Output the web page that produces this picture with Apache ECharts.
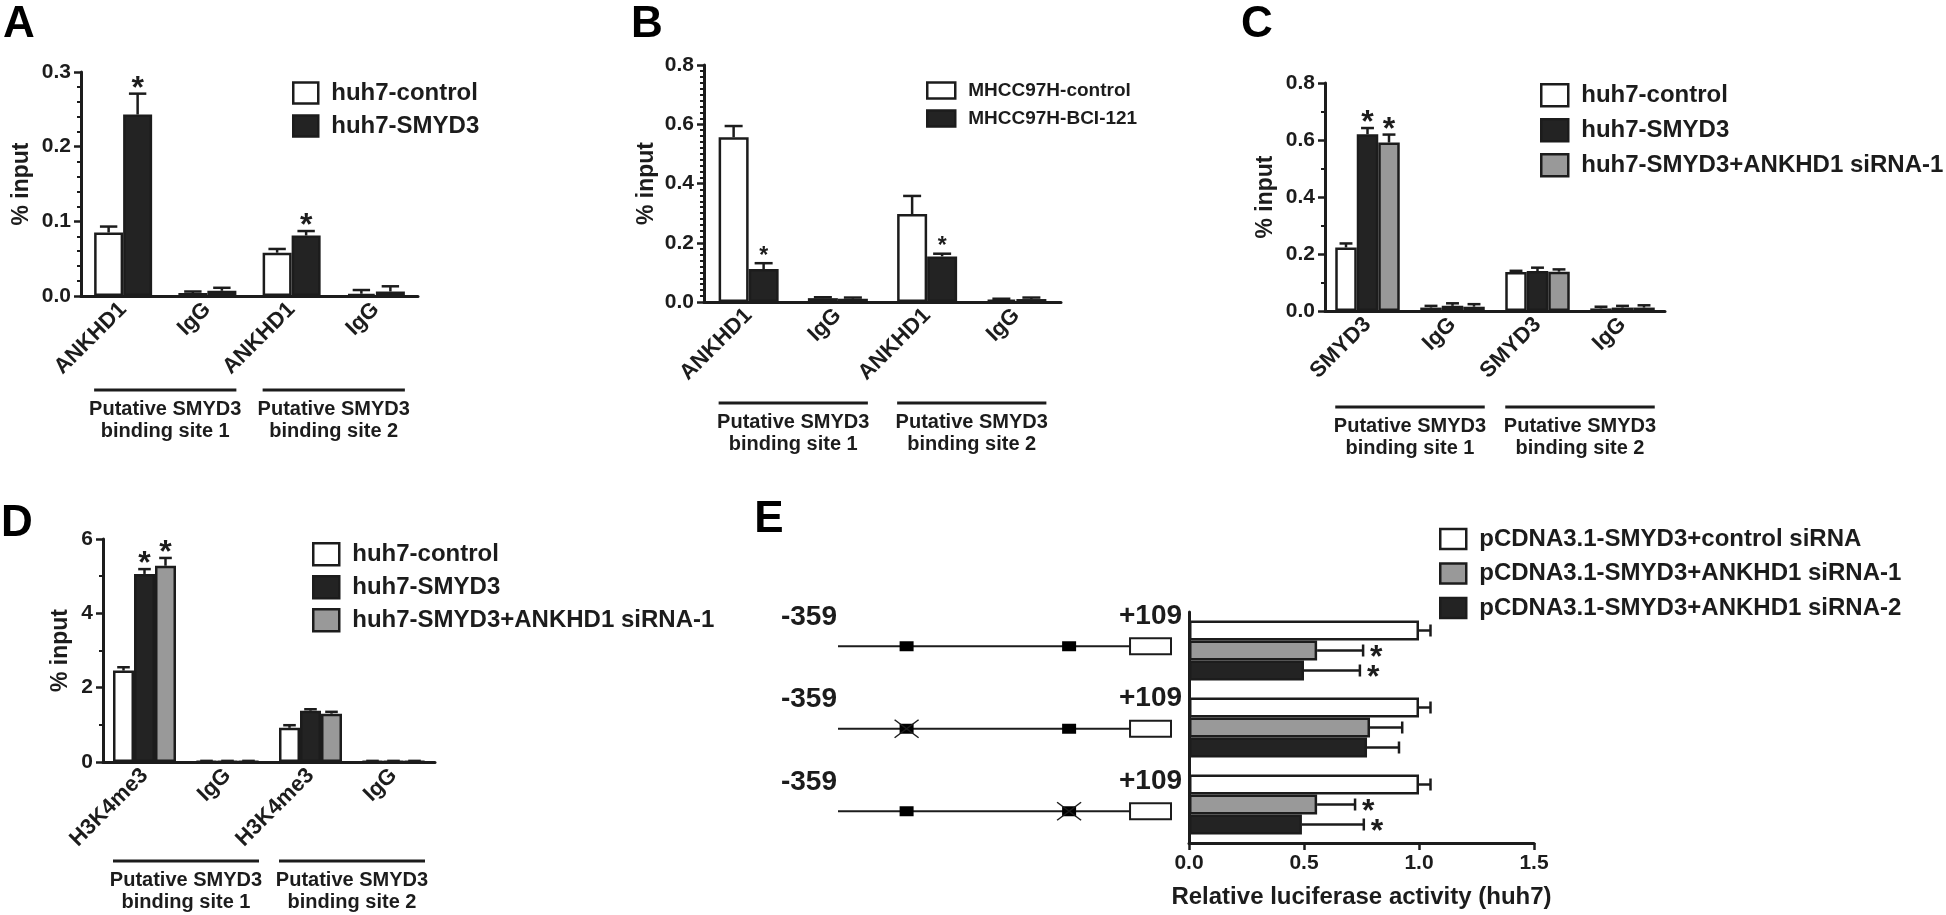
<!DOCTYPE html>
<html>
<head>
<meta charset="utf-8">
<title>SMYD3 / ANKHD1 ChIP and luciferase</title>
<script src="https://cdn.jsdelivr.net/npm/echarts@6/dist/echarts.min.js"></script>
<style>
  html, body { margin: 0; padding: 0; background: #fff; }
  #chart { width: 1946px; height: 915px; }
</style>
</head>
<body>
<div id="chart"></div>
<script>
// ---- A: ChIP in huh7, ANKHD1 promoter ----
const catsA = ['ANKHD1', 'IgG', 'ANKHD1', 'IgG'];
const ticksA = [0, 0.1, 0.2, 0.3];
const ctrlA = [0.085, 0.004, 0.058, 0.003];
const ctrlAErr = [0.008, 0.002, 0.005, 0.005];
const smyd3A = [0.243, 0.007, 0.081, 0.006];
const smyd3AErr = [0.028, 0.004, 0.006, 0.007];
const starsA = [1, 0, 1, 0];

// ---- B: MHCC97H + BCI-121 ----
const catsB = ['ANKHD1', 'IgG', 'ANKHD1', 'IgG'];
const ticksB = [0, 0.2, 0.4, 0.6, 0.8];
const ctrlB = [0.556, 0.013, 0.297, 0.008];
const ctrlBErr = [0.038, 0.003, 0.061, 0.003];
const bciB = [0.111, 0.011, 0.154, 0.010];
const bciBErr = [0.020, 0.004, 0.009, 0.005];
const starsB = [1, 0, 1, 0];

// ---- C: SMYD3 ChIP ----
const catsC = ['SMYD3', 'IgG', 'SMYD3', 'IgG'];
const ticksC = [0, 0.2, 0.4, 0.6, 0.8];
const ctrlC = [0.223, 0.012, 0.137, 0.009];
const ctrlCErr = [0.014, 0.006, 0.004, 0.006];
const smyd3C = [0.620, 0.018, 0.140, 0.012];
const smyd3CErr = [0.022, 0.009, 0.012, 0.006];
const sirnaC = [0.591, 0.015, 0.138, 0.012];
const sirnaCErr = [0.028, 0.009, 0.008, 0.008];
const starsC = [1, 0, 0, 0];

// ---- D: H3K4me3 ChIP ----
const catsD = ['H3K4me3', 'IgG', 'H3K4me3', 'IgG'];
const ticksD = [0, 2, 4, 6];
const ctrlD = [2.46, 0.02, 0.92, 0.02];
const ctrlDErr = [0.09, 0.01, 0.07, 0.01];
const smyd3D = [5.06, 0.02, 1.38, 0.02];
const smyd3DErr = [0.13, 0.01, 0.04, 0.01];
const sirnaD = [5.28, 0.02, 1.30, 0.02];
const sirnaDErr = [0.21, 0.01, 0.05, 0.01];
const starsD = [1, 0, 0, 0];

// ---- E: luciferase reporter (huh7) ----
const constructsE = ['wild type', 'site 1 mutated', 'site 2 mutated'];
const mutatedE = [[0, 0], [1, 0], [0, 1]];
const ticksE = [0, 0.5, 1.0, 1.5];
const ctrlE = [1.0, 1.0, 1.0];
const ctrlEErr = [0.05, 0.05, 0.05];
const sirna1E = [0.557, 0.787, 0.557];
const sirna1EErr = [0.20, 0.14, 0.165];
const sirna2E = [0.500, 0.774, 0.491];
const sirna2EErr = [0.243, 0.139, 0.269];
const starsE = [1, 0, 1];

const siteLabels = ['Putative SMYD3\nbinding site 1', 'Putative SMYD3\nbinding site 2'];

const FONT = '"Liberation Sans", Arial, sans-serif';
const INK = '#1c1c1c';
const WHITE = '#ffffff';
const DARK = '#232323';
const GRAY = '#999999';

const option = {
  animation: false,
  backgroundColor: '#ffffff',
  grid: [], xAxis: [], yAxis: [], legend: [], series: [], graphic: []
};

function bold(size) {
  return { color: INK, fontFamily: FONT, fontWeight: 'bold', fontSize: size };
}

function starText(x, y, size, align) {
  return {
    type: 'text',
    style: { x: x, y: y, text: '*', fill: INK, font: 'bold ' + size + 'px ' + FONT, textAlign: align, textVerticalAlign: 'middle' }
  };
}

// error bar (+ optional asterisk) drawn next to a bar series
function errorBar(offset, cap, starSize, horizontal) {
  return function (params, api) {
    const k = api.value(0), v = api.value(1), e = api.value(2), star = api.value(3);
    const ls = { stroke: INK, lineWidth: 2.5 };
    const kids = [];
    if (!horizontal) {
      const lo = api.coord([k, v]), hi = api.coord([k, v + e]);
      const x = lo[0] + offset;
      kids.push({ type: 'line', shape: { x1: x, y1: lo[1], x2: x, y2: hi[1] }, style: ls });
      kids.push({ type: 'line', shape: { x1: x - cap / 2, y1: hi[1], x2: x + cap / 2, y2: hi[1] }, style: ls });
      if (star) kids.push(starText(x, hi[1] - 12 + 0.225 * starSize, starSize, 'center'));
    } else {
      const lo = api.coord([v, k]), hi = api.coord([v + e, k]);
      const y = lo[1] + offset;
      kids.push({ type: 'line', shape: { x1: lo[0], y1: y, x2: hi[0], y2: y }, style: ls });
      kids.push({ type: 'line', shape: { x1: hi[0], y1: y - cap / 2, x2: hi[0], y2: y + cap / 2 }, style: ls });
      if (star) kids.push(starText(hi[0] + 7, y + 0.225 * starSize, starSize, 'left'));
    }
    return { type: 'group', children: kids };
  };
}

// line under a pair of categories with the site label below it
function bracket(halfSpan, offset) {
  return function (params, api) {
    const a = api.coord([api.value(0), 0]);
    const b = api.coord([api.value(1), 0]);
    const y = a[1] + offset;
    return {
      type: 'group',
      children: [
        { type: 'line', shape: { x1: a[0] - halfSpan, y1: y, x2: b[0] + halfSpan, y2: y }, style: { stroke: INK, lineWidth: 3 } },
        {
          type: 'text',
          style: {
            x: (a[0] + b[0]) / 2, y: y + 8, text: siteLabels[params.dataIndex], fill: INK,
            font: 'bold 20px ' + FONT, textAlign: 'center', textVerticalAlign: 'top', lineHeight: 22
          }
        }
      ]
    };
  };
}

function chipPanel(p) {
  const gi = option.grid.length;
  option.grid.push({ left: p.box[0], top: p.box[1], width: p.box[2], height: p.box[3] });
  option.xAxis.push({
    type: 'category', gridIndex: gi, data: p.cats,
    axisLine: { lineStyle: { color: INK, width: 3 } },
    axisTick: { alignWithLabel: true, length: 7, lineStyle: { color: INK, width: 2.5 } },
    axisLabel: Object.assign({ rotate: 45, margin: 10, interval: 0 }, bold(22))
  });
  option.yAxis.push({
    type: 'value', gridIndex: gi,
    min: p.ticks[0], max: p.ticks[p.ticks.length - 1], interval: p.ticks[1] - p.ticks[0],
    name: '% input', nameLocation: 'middle', nameRotate: 90, nameGap: p.nameGap,
    nameTextStyle: bold(23),
    axisLine: { show: true, lineStyle: { color: INK, width: 3 } },
    axisTick: { show: true, length: 7, lineStyle: { color: INK, width: 2.5 } },
    minorTick: { show: true, splitNumber: p.minor, length: 4, lineStyle: { color: INK, width: 2 } },
    splitLine: { show: false },
    axisLabel: Object.assign({ margin: 10, formatter: p.fmt }, bold(21))
  });
  const n = p.groups.length;
  p.groups.forEach(function (g) {
    option.series.push({
      type: 'bar', name: g.name, xAxisIndex: gi, yAxisIndex: gi, data: g.values,
      barWidth: p.barWidth, barGap: '0%',
      itemStyle: { color: g.color, borderColor: INK, borderWidth: 2.5 }
    });
  });
  p.groups.forEach(function (g, i) {
    option.series.push({
      type: 'custom', xAxisIndex: gi, yAxisIndex: gi, silent: true, z: 3,
      renderItem: errorBar((i - (n - 1) / 2) * p.barWidth, p.barWidth * 0.6, p.starSize, false),
      encode: { x: 0, y: 1 },
      data: g.values.map(function (v, k) { return [k, v, g.errs[k], g.stars ? g.stars[k] : 0]; })
    });
  });
  option.series.push({
    type: 'custom', xAxisIndex: gi, yAxisIndex: gi, silent: true,
    renderItem: bracket(n * p.barWidth / 2, p.bracketOffset),
    encode: { x: [0, 1], y: 2 },
    data: [[0, 1, 0], [2, 3, 0]]
  });
  option.legend.push({
    left: p.legend.left, top: p.legend.top, orient: 'vertical', icon: 'rect',
    itemWidth: p.legend.w, itemHeight: p.legend.h, itemGap: p.legend.gap,
    selectedMode: false,
    data: p.groups.map(function (g) { return g.name; }),
    itemStyle: { borderColor: INK, borderWidth: 2.5 },
    textStyle: Object.assign({ lineHeight: p.legend.h, padding: [0, 0, 0, 8] }, bold(p.legend.font))
  });
}

const fmt1 = function (v) { return v.toFixed(1); };
const fmt0 = function (v) { return String(Math.round(v)); };

chipPanel({
  box: [81, 72, 337, 224], cats: catsA, ticks: ticksA, minor: 5, fmt: fmt1, nameGap: 48,
  barWidth: 29, starSize: 32, bracketOffset: 94,
  legend: { left: 287, top: 76, w: 25, h: 21, gap: 9, font: 24 },
  groups: [
    { name: 'huh7-control', values: ctrlA, errs: ctrlAErr, color: WHITE },
    { name: 'huh7-SMYD3', values: smyd3A, errs: smyd3AErr, stars: starsA, color: DARK }
  ]
});

chipPanel({
  box: [704, 65, 357, 237], cats: catsB, ticks: ticksB, minor: 10, fmt: fmt1, nameGap: 46,
  barWidth: 30, starSize: 23, bracketOffset: 101,
  legend: { left: 921, top: 76, w: 28, h: 16, gap: 9, font: 19 },
  groups: [
    { name: 'MHCC97H-control', values: ctrlB, errs: ctrlBErr, color: WHITE },
    { name: 'MHCC97H-BCI-121', values: bciB, errs: bciBErr, stars: starsB, color: DARK }
  ]
});

chipPanel({
  box: [1325, 83, 340, 228], cats: catsC, ticks: ticksC, minor: 2, fmt: fmt1, nameGap: 48,
  barWidth: 21.5, starSize: 32, bracketOffset: 96,
  legend: { left: 1535, top: 78, w: 27, h: 22, gap: 10.5, font: 24 },
  groups: [
    { name: 'huh7-control', values: ctrlC, errs: ctrlCErr, color: WHITE },
    { name: 'huh7-SMYD3', values: smyd3C, errs: smyd3CErr, stars: starsC, color: DARK },
    { name: 'huh7-SMYD3+ANKHD1 siRNA-1', values: sirnaC, errs: sirnaCErr, stars: starsC, color: GRAY }
  ]
});

chipPanel({
  box: [103, 539, 332, 223], cats: catsD, ticks: ticksD, minor: 2, fmt: fmt0, nameGap: 31,
  barWidth: 21, starSize: 32, bracketOffset: 99,
  legend: { left: 307, top: 537, w: 26, h: 22, gap: 8.5, font: 24 },
  groups: [
    { name: 'huh7-control', values: ctrlD, errs: ctrlDErr, color: WHITE },
    { name: 'huh7-SMYD3', values: smyd3D, errs: smyd3DErr, stars: starsD, color: DARK },
    { name: 'huh7-SMYD3+ANKHD1 siRNA-1', values: sirnaD, errs: sirnaDErr, stars: starsD, color: GRAY }
  ]
});

// ---- panel E: horizontal bars ----
const gE = option.grid.length;
option.grid.push({ left: 1189, top: 612, width: 345, height: 231 });
option.xAxis.push({
  type: 'value', gridIndex: gE,
  min: ticksE[0], max: ticksE[ticksE.length - 1], interval: ticksE[1] - ticksE[0],
  name: 'Relative luciferase activity (huh7)', nameLocation: 'middle', nameGap: 42,
  nameTextStyle: bold(24),
  axisLine: { show: true, lineStyle: { color: INK, width: 3 } },
  axisTick: { show: true, length: 7, lineStyle: { color: INK, width: 2.5 } },
  splitLine: { show: false },
  axisLabel: Object.assign({ margin: 10, formatter: fmt1 }, bold(21))
});
option.yAxis.push({
  type: 'category', gridIndex: gE, data: constructsE, inverse: true,
  axisLine: { show: true, lineStyle: { color: INK, width: 3 } },
  axisTick: { show: false }, axisLabel: { show: false }
});
const groupsE = [
  { name: 'pCDNA3.1-SMYD3+control siRNA', values: ctrlE, errs: ctrlEErr, color: WHITE },
  { name: 'pCDNA3.1-SMYD3+ANKHD1 siRNA-1', values: sirna1E, errs: sirna1EErr, stars: starsE, color: GRAY },
  { name: 'pCDNA3.1-SMYD3+ANKHD1 siRNA-2', values: sirna2E, errs: sirna2EErr, stars: starsE, color: DARK }
];
const barE = 20;
groupsE.forEach(function (g) {
  option.series.push({
    type: 'bar', name: g.name, xAxisIndex: gE, yAxisIndex: gE, data: g.values,
    barWidth: barE, barGap: '0%',
    itemStyle: { color: g.color, borderColor: INK, borderWidth: 2.5 }
  });
});
groupsE.forEach(function (g, i) {
  option.series.push({
    type: 'custom', xAxisIndex: gE, yAxisIndex: gE, silent: true, z: 3,
    renderItem: errorBar((i - 1) * barE, 12, 32, true),
    encode: { x: 1, y: 0 },
    data: g.values.map(function (v, k) { return [k, v, g.errs[k], g.stars ? g.stars[k] : 0]; })
  });
});
option.legend.push({
  left: 1434, top: 522, orient: 'vertical', icon: 'rect',
  itemWidth: 26, itemHeight: 20, itemGap: 10.5, selectedMode: false,
  data: groupsE.map(function (g) { return g.name; }),
  itemStyle: { borderColor: INK, borderWidth: 2.5 },
  textStyle: Object.assign({ lineHeight: 20, padding: [0, 0, 0, 8] }, bold(24))
});

// promoter constructs drawn on their own hidden axes (x = fraction of -359..+109)
const SITE_POS = [0.206, 0.694];
const BOX_START = 0.877;
const gP = option.grid.length;
option.grid.push({ left: 838, top: 605, width: 333, height: 247.5 });
option.xAxis.push({ type: 'value', gridIndex: gP, min: 0, max: 1, show: false });
option.yAxis.push({ type: 'category', gridIndex: gP, data: constructsE, inverse: true, show: false });
option.series.push({
  type: 'custom', xAxisIndex: gP, yAxisIndex: gP, silent: true,
  encode: { x: 1, y: 0 },
  data: mutatedE.map(function (m, r) { return [r, m[0], m[1]]; }),
  renderItem: function (params, api) {
    const row = api.value(0);
    const l = api.coord([0, row]), r = api.coord([1, row]);
    const y = l[1], span = r[0] - l[0];
    const boxX = l[0] + span * BOX_START;
    const kids = [
      { type: 'line', shape: { x1: l[0], y1: y, x2: boxX, y2: y }, style: { stroke: INK, lineWidth: 2 } },
      { type: 'rect', shape: { x: boxX, y: y - 8, width: r[0] - boxX, height: 16 }, style: { fill: '#fff', stroke: INK, lineWidth: 2 } },
      { type: 'text', style: { x: l[0] - 1, y: y - 29, text: '-359', fill: INK, font: 'bold 28px ' + FONT, textAlign: 'right', textVerticalAlign: 'middle' } },
      { type: 'text', style: { x: (boxX + r[0]) / 2, y: y - 30, text: '+109', fill: INK, font: 'bold 28px ' + FONT, textAlign: 'center', textVerticalAlign: 'middle' } }
    ];
    SITE_POS.forEach(function (f, s) {
      const sx = l[0] + span * f;
      kids.push({ type: 'rect', shape: { x: sx - 7, y: y - 5, width: 14, height: 10 }, style: { fill: '#000' } });
      if (api.value(1 + s)) {
        kids.push({ type: 'line', shape: { x1: sx - 12, y1: y - 9, x2: sx + 12, y2: y + 9 }, style: { stroke: INK, lineWidth: 1.5 } });
        kids.push({ type: 'line', shape: { x1: sx - 12, y1: y + 9, x2: sx + 12, y2: y - 9 }, style: { stroke: INK, lineWidth: 1.5 } });
      }
    });
    return { type: 'group', children: kids };
  }
});

// panel letters
const letters = [['A', 19, 25], ['B', 647, 25], ['C', 1257, 25], ['D', 17, 524], ['E', 769, 520]];
option.graphic = letters.map(function (t) {
  return {
    type: 'text', x: t[1], y: t[2],
    style: { text: t[0], fill: '#000', font: 'bold 44px ' + FONT, textAlign: 'center', textVerticalAlign: 'middle' }
  };
});

const chart = echarts.init(document.getElementById('chart'));
chart.setOption(option);
</script>
</body>
</html>
